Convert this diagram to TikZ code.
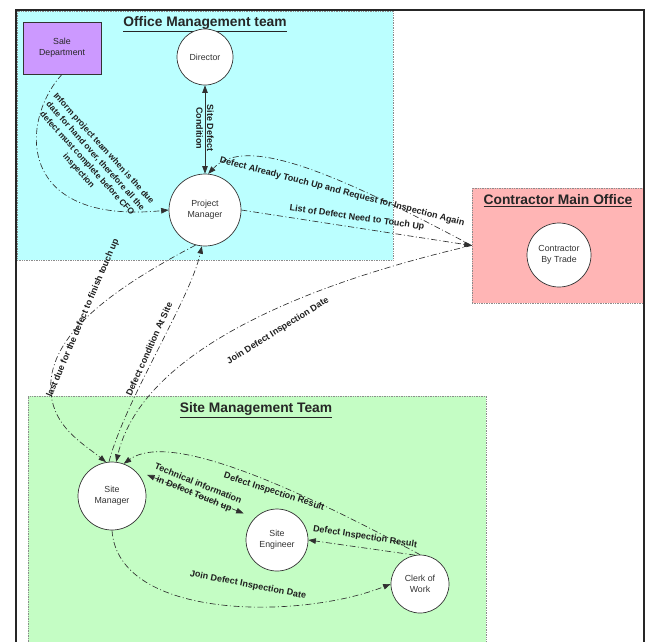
\documentclass[tikz,border=0pt]{standalone}
\usepackage{fontspec}
\setmainfont{Liberation Sans}
\usetikzlibrary{arrows.meta}

\definecolor{officebg}{HTML}{BBFFFF}
\definecolor{sitebg}{HTML}{C4FDC4}
\definecolor{contrbg}{HTML}{FFB5B5}
\definecolor{salebg}{HTML}{CC99FF}
\definecolor{flowcol}{HTML}{303030}

\tikzset{
  region/.style={draw=black!45, densely dotted, line width=0.7pt, rectangle, inner sep=0pt},
  regiontitle/.style={font=\fontsize{13.8}{16}\selectfont\bfseries, text=black!85},
  actor/.style={circle, draw=black!80, line width=0.7pt, fill=white, inner sep=0pt,
                align=center, font=\fontsize{8.8}{11}\selectfont, text=black!80},
  deptbox/.style={rectangle, draw=black!80, line width=0.7pt, fill=salebg, inner sep=0pt,
                  align=center, font=\fontsize{8.8}{11}\selectfont, text=black!85},
  flow/.style={draw=flowcol, line width=0.65pt,
               dash pattern=on 6pt off 2.5pt on 1pt off 2.5pt,
               -{Triangle[length=7.5pt,width=5.5pt]}},
  bothways/.style={{Triangle[length=7.5pt,width=5.5pt]}-{Triangle[length=7.5pt,width=5.5pt]}},
  flowlabel/.style={font=\fontsize{9}{10.8}\selectfont\bfseries, text=black!88,
                    align=center, inner sep=0pt},
  smalllabel/.style={flowlabel, font=\fontsize{8.5}{11.2}\selectfont\bfseries}
}

\begin{document}
\begin{tikzpicture}[x=1pt,y=-1pt]
\useasboundingbox (0,0) rectangle (647,641);
\clip (0,0) rectangle (647,641);
\fill[white] (0,0) rectangle (647,641);

% team areas
\node[region, fill=officebg, minimum width=376pt, minimum height=249pt] (office) at (205,135.5) {};
\node[region, fill=contrbg, minimum width=172pt, minimum height=115pt] (cmo) at (558,245.5) {};
\node[region, fill=sitebg, minimum width=458pt, minimum height=270pt] (site) at (257,531) {};

% outer frame
\draw[line width=1.6pt, black!85] (16,10) rectangle (644,720);

% area titles
\node[regiontitle] (officetitle) at (205,24) {\underline{Office Management team}};
\node[regiontitle] (cmotitle) at (558,201) {\underline{Contractor Main Office}};
\node[regiontitle] (sitetitle) at (256,410) {\underline{Site Management Team}};

% parties
\node[deptbox, minimum width=78pt, minimum height=52pt] (sale) at (62,48) {Sale\\Department};
\node[actor, minimum size=56pt] (director) at (205,57) {Director};
\node[actor, minimum size=72pt] (pm) at (205,210) {Project\\Manager};
\node[actor, minimum size=64pt] (trade) at (559,255) {Contractor\\By Trade};
\node[actor, minimum size=68pt] (sitemgr) at (112,496) {Site\\Manager};
\node[actor, minimum size=62pt] (siteeng) at (277,540) {Site\\Engineer};
\node[actor, minimum size=58pt] (clerk) at (420,584) {Clerk of\\Work};

% office flows
\draw[flow] (sale.south) .. controls (20,120) and (15,225) .. (pm.west);
\node[smalllabel, rotate=-48] (salelbl) at (91,160)
  {Inform project team when is the due\\date for hand over, therefore all the\\defect must complete before CFO\\inspection};

\draw[draw=flowcol, line width=0.7pt, bothways] (director.south) -- (pm.north);
\node[flowlabel, rotate=-90] (sitecondlbl) at (205,128) {Site Defect\\Condition};

% flows with the contractor
\draw[flow] (cmo.west) .. controls (330,170) and (245,135) .. (pm.85);
\node[flowlabel, rotate=-14.5] (touchedlbl) at (342,192)
  {Defect Already Touch Up and Request for Inspection Again};

\draw[flow] (pm.east) -- (cmo.west);
\node[flowlabel, rotate=-8] (listlbl) at (357,218) {List of Defect Need to Touch Up};

\draw[flow] (cmo.west) .. controls (280,290) and (140,360) .. (sitemgr.83);
\node[flowlabel, rotate=32] (joinuplbl) at (278,331) {Join Defect Inspection Date};

% flows between office and site
\draw[flow] (sitemgr.95) .. controls (125,400) and (190,300) .. (pm.265);
\node[flowlabel, rotate=66] (condlbl) at (149,349) {Defect condition At Site};

\draw[flow] (pm.255) .. controls (110,290) and (40,340) .. (52,400)
  .. controls (58,430) and (85,445) .. (sitemgr.100);
\node[flowlabel, rotate=67] (lastduelbl) at (83,318) {last due for the defect to finish touch up};

% site flows
\draw[flow] (clerk.north) .. controls (300,490) and (170,430) .. (sitemgr.70);
\node[flowlabel, rotate=-18] (resultuplbl) at (274,492) {Defect Inspection Result};

\draw[flow] (clerk.100) -- (siteeng.east);
\node[flowlabel, rotate=-9] (resultlolbl) at (365,537) {Defect Inspection Result};

\draw[flow, bothways, shorten <=14pt, shorten >=12pt] (sitemgr.50) -- (siteeng.135);
\node[flowlabel, rotate=-22] (techlbl) at (196,489) {Technical information\\in Defect Touch up};

\draw[flow] (sitemgr.south) .. controls (118,620) and (300,620) .. (clerk.west);
\node[flowlabel, rotate=-11] (joinlolbl) at (248,585) {Join Defect Inspection Date};
\end{tikzpicture}
\end{document}
